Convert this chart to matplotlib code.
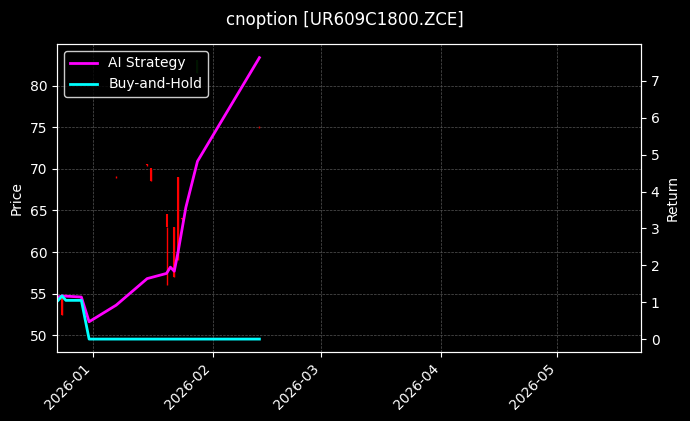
import matplotlib
matplotlib.use("Agg")
import matplotlib.pyplot as plt
import matplotlib.dates as mdates
import pandas as pd

plt.style.use("dark_background")

strat_dates = ["2025-12-23","2025-12-24","2025-12-29","2025-12-31","2026-01-07","2026-01-15",
               "2026-01-20","2026-01-21","2026-01-22","2026-01-23","2026-01-25","2026-01-28","2026-02-13"]
strat_ret = [1.14,1.17,1.14,0.47,0.92,1.64,1.78,1.95,1.84,2.37,3.57,4.82,7.63]
bh_dates = ["2025-12-23","2025-12-24","2025-12-25","2025-12-29","2025-12-31","2026-02-13"]
bh_ret = [1.05,1.17,1.05,1.05,0.0,0.0]

candle_dates = ["2025-12-24","2026-01-07","2026-01-15","2026-01-16","2026-01-20","2026-01-22",
                "2026-01-23","2026-01-24","2026-01-28","2026-02-13"]
candle_open = [54.5,69.0,70.5,70.0,63.0,63.0,69.0,64.0,81.5,75.0]
candle_close = [52.5,69.0,70.5,68.5,64.5,57.0,59.0,64.0,83.0,75.0]
candle_high = [54.8,69.1,70.6,70.0,63.0,63.0,69.0,64.1,83.0,75.1]
candle_low = [52.5,68.9,70.4,68.5,56.0,57.0,59.0,63.9,81.5,74.9]
candle_color = ["#ff0000","#ff0000","#ff0000","#ff0000","#ff0000","#ff0000","#ff0000","#ff0000","#006600","#cc0000"]

fig = plt.figure(figsize=(6.9, 4.21), dpi=100)
fig.patch.set_facecolor("black")
ax = fig.add_axes([57/690, 1-352/421, 584/690, 308/421])
ax.set_facecolor("black")
cd = pd.to_datetime(candle_dates)
for d, o, c, h, l, col in zip(cd, candle_open, candle_close, candle_high, candle_low, candle_color):
    ax.vlines(d, l, h, color=col, linewidth=1)
    ax.vlines(d, min(o, c), max(o, c) + 0.05, color=col, linewidth=1.5)
ax.set_ylim(48, 85)
ax.set_yticks([50, 55, 60, 65, 70, 75, 80])
ax.set_xlim(pd.Timestamp("2025-12-22 17:00"), pd.Timestamp("2026-05-22 14:00"))
ax.xaxis.set_major_locator(mdates.MonthLocator())
ax.xaxis.set_major_formatter(mdates.DateFormatter("%Y-%m"))
plt.setp(ax.get_xticklabels(), rotation=45, ha="right")
ax.set_ylabel("Price")
ax.grid(True, linestyle="--", linewidth=0.5, color="#555555")

ax2 = ax.twinx()
ax2.plot(pd.to_datetime(strat_dates), strat_ret, color="#ff00ff", linewidth=2, label="AI Strategy")
ax2.plot(pd.to_datetime(bh_dates), bh_ret, color="#00ffff", linewidth=2, label="Buy-and-Hold")
ax2.set_ylim(-0.35, 8.0)
ax2.set_yticks(range(0, 8))
ax2.set_ylabel("Return")
ax2.legend(loc="upper left", facecolor="black", edgecolor="white")
fig.suptitle("cnoption [UR609C1800.ZCE]", y=0.975, fontsize=12)
fig.savefig("out.png", dpi=100, facecolor="black")
